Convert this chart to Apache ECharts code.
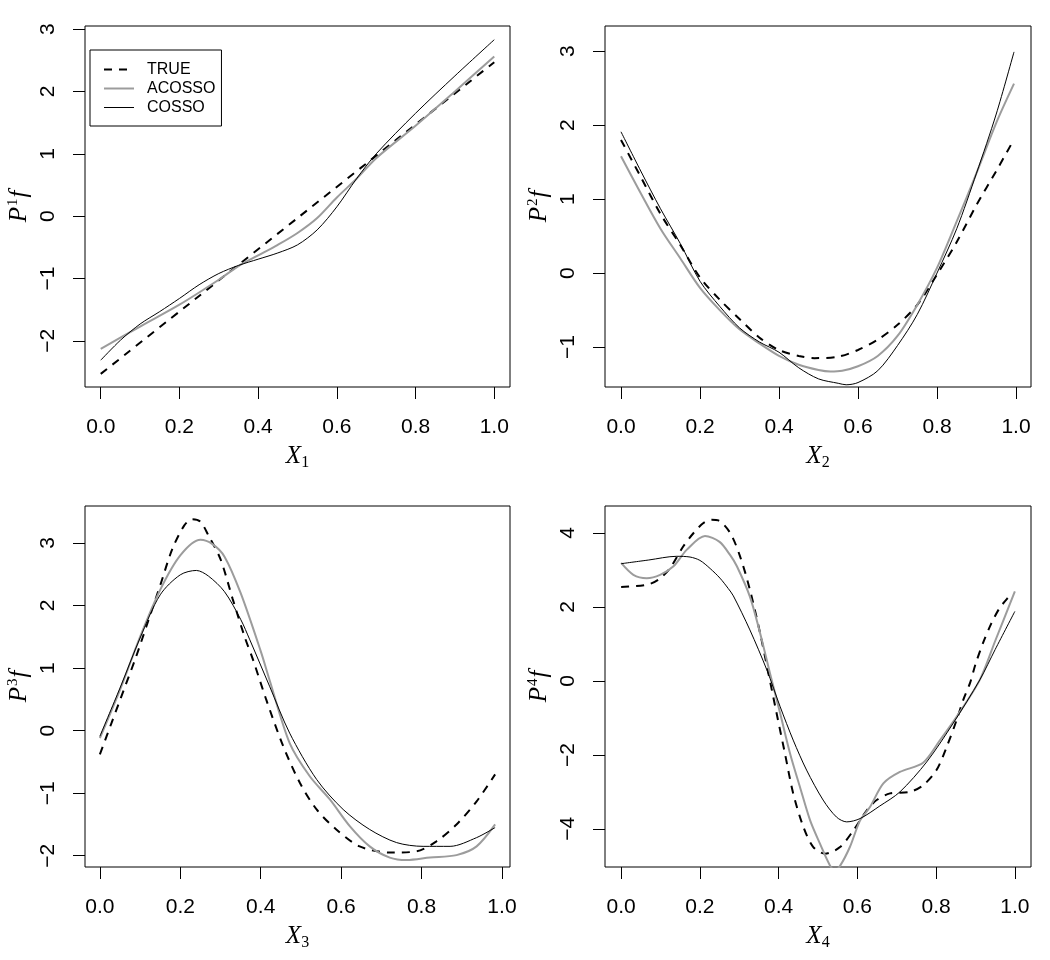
<!DOCTYPE html>
<html>
<head>
<meta charset="utf-8">
<script src="https://cdn.jsdelivr.net/npm/echarts@6/dist/echarts.min.js"></script>
<style>
  html, body { margin: 0; padding: 0; background: #fff; }
  #chart { width: 1050px; height: 960px; }
</style>
</head>
<body>
<div id="chart"></div>
<script>
// ---------------- data (x, y pairs) ----------------
const seriesNames = ['TRUE', 'ACOSSO', 'COSSO'];
const xTicks = [0, 0.2, 0.4, 0.6, 0.8, 1.0];
const yTicks1 = [-2, -1, 0, 1, 2, 3];
const yTicks2 = [-1, 0, 1, 2, 3];
const yTicks3 = [-2, -1, 0, 1, 2, 3];
const yTicks4 = [-4, -2, 0, 2, 4];

// Panel 1 (X1)
const p1True = [[0,-2.53],[0.25,-1.28],[0.5,-0.03],[0.75,1.22],[1.0,2.47]];
const p1Acosso = [[0,-2.13],[0.1,-1.77],[0.2,-1.42],[0.3,-1.02],[0.35,-0.8],[0.4,-0.63],[0.45,-0.46],[0.5,-0.27],[0.55,-0.03],[0.6,0.3],[0.65,0.6],[0.7,0.93],[0.8,1.45],[0.9,2.0],[1.0,2.56]];
const p1Cosso = [[0,-2.31],[0.05,-1.99],[0.1,-1.73],[0.15,-1.53],[0.2,-1.32],[0.25,-1.1],[0.3,-0.92],[0.35,-0.79],[0.4,-0.69],[0.45,-0.59],[0.5,-0.46],[0.55,-0.22],[0.6,0.15],[0.65,0.6],[0.7,1.0],[0.8,1.65],[0.9,2.25],[1.0,2.83]];

// Panel 2 (X2)
const p2True = [[0,1.8],[0.05,1.3],[0.1,0.8],[0.15,0.38],[0.2,-0.06],[0.25,-0.36],[0.3,-0.62],[0.35,-0.87],[0.4,-1.04],[0.45,-1.12],[0.49,-1.15],[0.55,-1.13],[0.6,-1.04],[0.65,-0.9],[0.7,-0.7],[0.75,-0.43],[0.8,-0.02],[0.85,0.42],[0.9,0.92],[0.95,1.38],[0.99,1.76]];
const p2Acosso = [[0,1.58],[0.05,1.08],[0.1,0.6],[0.15,0.2],[0.2,-0.2],[0.25,-0.5],[0.3,-0.76],[0.35,-0.95],[0.4,-1.12],[0.45,-1.24],[0.5,-1.31],[0.53,-1.33],[0.56,-1.32],[0.6,-1.26],[0.65,-1.12],[0.7,-0.85],[0.75,-0.43],[0.8,0.07],[0.85,0.7],[0.9,1.35],[0.95,2.03],[0.995,2.56]];
const p2Cosso = [[0,1.91],[0.05,1.38],[0.1,0.87],[0.15,0.4],[0.2,-0.11],[0.25,-0.45],[0.3,-0.74],[0.35,-0.93],[0.4,-1.07],[0.45,-1.28],[0.5,-1.43],[0.55,-1.49],[0.57,-1.51],[0.6,-1.48],[0.65,-1.32],[0.7,-0.98],[0.75,-0.56],[0.8,0.0],[0.85,0.6],[0.9,1.35],[0.95,2.15],[0.995,2.99]];

// Panel 3 (X3)
const p3True = [[0,-0.38],[0.03,0.14],[0.06,0.66],[0.09,1.18],[0.12,1.75],[0.15,2.32],[0.18,2.9],[0.21,3.28],[0.23,3.38],[0.25,3.34],[0.27,3.12],[0.3,2.74],[0.33,2.11],[0.36,1.5],[0.381,1.13],[0.414,0.49],[0.456,-0.25],[0.497,-0.83],[0.539,-1.26],[0.588,-1.58],[0.646,-1.85],[0.721,-1.95],[0.788,-1.93],[0.837,-1.77],[0.887,-1.5],[0.937,-1.13],[0.983,-0.7]];
const p3Acosso = [[0,-0.12],[0.05,0.65],[0.1,1.5],[0.15,2.25],[0.2,2.8],[0.25,3.05],[0.28,2.98],[0.31,2.78],[0.35,2.2],[0.4,1.27],[0.422,0.81],[0.472,-0.2],[0.522,-0.73],[0.572,-1.1],[0.622,-1.53],[0.671,-1.85],[0.721,-2.03],[0.763,-2.07],[0.821,-2.03],[0.887,-1.99],[0.937,-1.85],[0.983,-1.5]];
const p3Cosso = [[0,-0.09],[0.05,0.68],[0.1,1.48],[0.15,2.17],[0.2,2.49],[0.24,2.56],[0.27,2.47],[0.31,2.22],[0.35,1.78],[0.373,1.45],[0.422,0.71],[0.472,-0.04],[0.539,-0.78],[0.605,-1.26],[0.671,-1.58],[0.738,-1.79],[0.804,-1.85],[0.871,-1.85],[0.937,-1.71],[0.983,-1.55]];

// Panel 4 (X4)
const p4True = [[0,2.54],[0.065,2.6],[0.095,2.74],[0.124,3.05],[0.158,3.64],[0.184,4.0],[0.209,4.27],[0.23,4.36],[0.247,4.34],[0.277,4.0],[0.302,3.37],[0.327,2.47],[0.353,1.29],[0.374,0.21],[0.395,-0.88],[0.416,-1.96],[0.437,-3.04],[0.463,-3.95],[0.488,-4.49],[0.518,-4.67],[0.556,-4.49],[0.59,-4.04],[0.624,-3.5],[0.649,-3.22],[0.683,-3.04],[0.733,-3.0],[0.767,-2.82],[0.801,-2.41],[0.827,-1.78],[0.852,-1.06],[0.869,-0.51],[0.886,-0.06],[0.9,0.45],[0.92,1.05],[0.94,1.55],[0.96,1.95],[0.98,2.22],[0.995,2.38]];
const p4Acosso = [[0,3.19],[0.031,2.87],[0.065,2.78],[0.099,2.87],[0.133,3.1],[0.167,3.55],[0.213,3.92],[0.25,3.76],[0.277,3.4],[0.294,3.1],[0.327,2.28],[0.353,1.29],[0.378,0.21],[0.404,-0.88],[0.429,-1.96],[0.454,-2.86],[0.48,-3.77],[0.505,-4.4],[0.53,-4.98],[0.543,-5.12],[0.556,-5.0],[0.581,-4.49],[0.607,-3.77],[0.632,-3.41],[0.666,-2.77],[0.708,-2.46],[0.767,-2.21],[0.81,-1.6],[0.852,-0.97],[0.911,0.03],[0.95,1.08],[1.0,2.42]];
const p4Cosso = [[0,3.17],[0.07,3.27],[0.141,3.37],[0.175,3.35],[0.2,3.26],[0.226,3.04],[0.251,2.78],[0.272,2.5],[0.285,2.3],[0.327,1.38],[0.37,0.3],[0.404,-0.7],[0.437,-1.6],[0.471,-2.41],[0.513,-3.22],[0.547,-3.68],[0.573,-3.81],[0.607,-3.72],[0.657,-3.38],[0.708,-3.0],[0.776,-2.19],[0.843,-1.15],[0.911,0.03],[0.95,0.85],[1.0,1.88]];

// ---------------- layout / styles ----------------
const panels = [
  { grid: {left: 85,  top: 26,  width: 425, height: 361}, xr: [-0.04, 1.04],  yr: [-2.74, 3.05], yTicks: yTicks1, idx: '1', data: [p1True, p1Acosso, p1Cosso] },
  { grid: {left: 605, top: 26,  width: 426, height: 361}, xr: [-0.0405, 1.038], yr: [-1.54, 3.34], yTicks: yTicks2, idx: '2', data: [p2True, p2Acosso, p2Cosso] },
  { grid: {left: 85,  top: 506, width: 425, height: 361}, xr: [-0.037, 1.02], yr: [-2.18, 3.59], yTicks: yTicks3, idx: '3', data: [p3True, p3Acosso, p3Cosso] },
  { grid: {left: 605, top: 506, width: 426, height: 361}, xr: [-0.041, 1.041], yr: [-5.03, 4.73], yTicks: yTicks4, idx: '4', data: [p4True, p4Acosso, p4Cosso] }
];

const lineStyles = [
  { color: '#000', width: 2, type: [8, 7] },
  { color: '#9c9c9c', width: 2, type: 'solid' },
  { color: '#000', width: 1, type: 'solid' }
];

const sans = 'Liberation Sans, Arial, sans-serif';
const serif = 'Liberation Serif, Times New Roman, serif';
const fmtY = v => (v < 0 ? '\u2212' + Math.abs(v) : String(v));

const grids = [], xAxes = [], yAxes = [], series = [];
panels.forEach((p, i) => {
  grids.push(Object.assign({ show: true, borderColor: '#000', borderWidth: 1, backgroundColor: 'transparent' }, p.grid));
  xAxes.push({
    type: 'value', gridIndex: i, min: p.xr[0], max: p.xr[1],
    axisLine: { show: false, onZero: false },
    splitLine: { show: false },
    axisTick: { show: true, inside: false, length: 12, customValues: xTicks, lineStyle: { color: '#000', width: 1 } },
    axisLabel: { customValues: xTicks, formatter: v => v.toFixed(1), color: '#000', fontFamily: sans, fontSize: 21, margin: 30 },
    name: '{i|X}{s|' + p.idx + '}', nameLocation: 'middle', nameGap: 56,
    nameTextStyle: { rich: {
      i: { fontFamily: serif, fontStyle: 'italic', fontSize: 25, lineHeight: 26, color: '#000' },
      s: { fontFamily: serif, fontSize: 16, lineHeight: 16, padding: [14, 0, 0, 0], color: '#000' }
    } }
  });
  yAxes.push({
    type: 'value', gridIndex: i, min: p.yr[0], max: p.yr[1],
    axisLine: { show: false, onZero: false },
    splitLine: { show: false },
    axisTick: { show: true, inside: false, length: 12, customValues: p.yTicks, lineStyle: { color: '#000', width: 1 } },
    axisLabel: { customValues: p.yTicks, formatter: fmtY, rotate: 90, color: '#000', fontFamily: sans, fontSize: 21, margin: 26 },
    name: '{i|P}{s|' + p.idx + '}{i|f}', nameLocation: 'middle', nameRotate: 90, nameGap: 53,
    nameTextStyle: { rich: {
      i: { fontFamily: serif, fontStyle: 'italic', fontSize: 25, lineHeight: 26, color: '#000' },
      s: { fontFamily: serif, fontSize: 15, lineHeight: 15, padding: [0, 1, 12, 1], color: '#000' }
    } }
  });
  p.data.forEach((d, k) => {
    series.push({
      name: seriesNames[k], type: 'line', xAxisIndex: i, yAxisIndex: i,
      data: d, symbol: 'none', showSymbol: false, smooth: 0.3, clip: true,
      lineStyle: lineStyles[k], itemStyle: { color: lineStyles[k].color },
      z: 2 + k, silent: true
    });
  });
});

const chart = echarts.init(document.getElementById('chart'), null, { renderer: 'canvas' });
chart.setOption({
  animation: false,
  backgroundColor: '#fff',
  grid: grids,
  xAxis: xAxes,
  yAxis: yAxes,
  legend: {
    data: seriesNames.map((n, k) => ({ name: n, lineStyle: { width: lineStyles[k].width, type: lineStyles[k].type, color: lineStyles[k].color } })),
    orient: 'vertical', left: 90, top: 50,
    borderColor: '#000', borderWidth: 1, borderRadius: 0,
    padding: [10, 6, 9, 13], itemWidth: 30, itemHeight: 14, itemGap: 0,
    itemStyle: { opacity: 0 },
    textStyle: { fontFamily: sans, fontSize: 16, color: '#000', lineHeight: 19, padding: [0, 0, 0, 8] },
    backgroundColor: '#fff', selectedMode: false
  },
  series: series
});
</script>
</body>
</html>
